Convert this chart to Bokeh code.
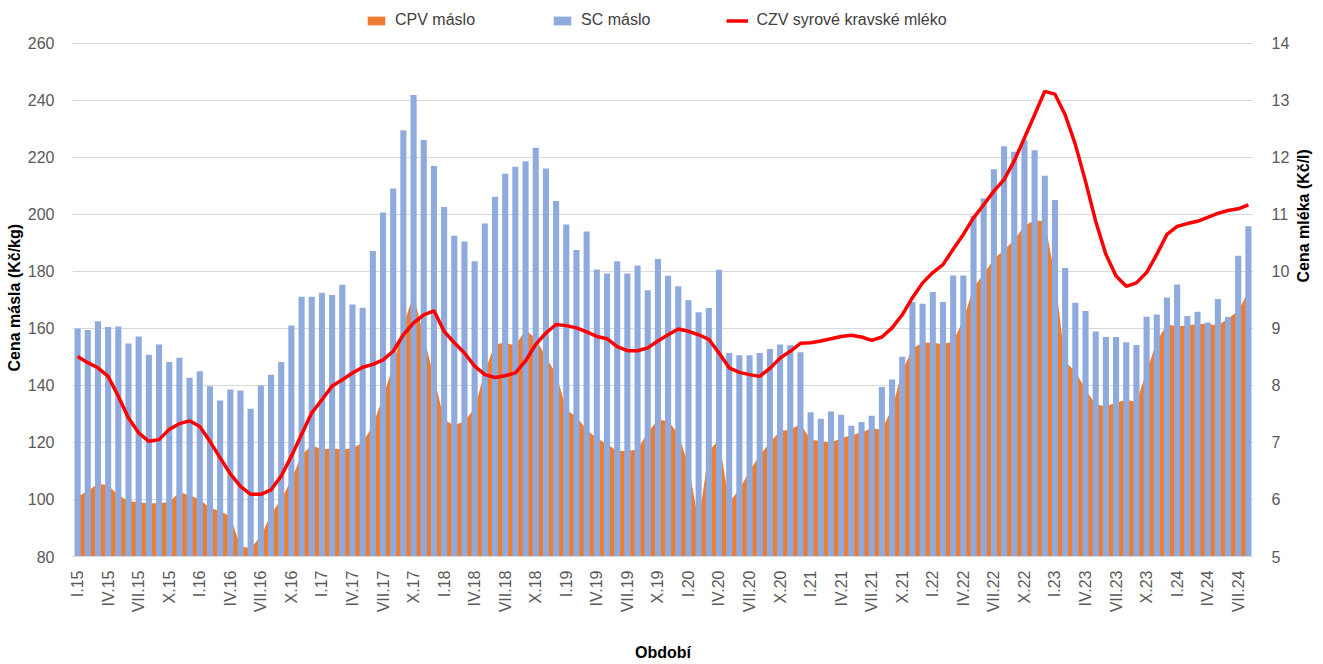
from bokeh.plotting import figure
from bokeh.models import Range1d, LinearAxis, FixedTicker, Legend, LegendItem, ColumnDataSource, Title
from bokeh.embed import file_html
from bokeh.resources import INLINE
import math

# ---- data ----
tick_labels = ["I.15", "IV.15", "VII.15", "X.15", "I.16", "IV.16", "VII.16", "X.16",
               "I.17", "IV.17", "VII.17", "X.17", "I.18", "IV.18", "VII.18", "X.18",
               "I.19", "IV.19", "VII.19", "X.19", "I.20", "IV.20", "VII.20", "X.20",
               "I.21", "IV.21", "VII.21", "X.21", "I.22", "IV.22", "VII.22", "X.22",
               "I.23", "IV.23", "VII.23", "X.23", "I.24", "IV.24", "VII.24"]

sc_maslo = [160, 159.5, 162.5, 160.5, 160.7, 154.7, 157.2, 150.8, 154.4, 148.2,
            149.7, 142.7, 145, 139.7, 134.7, 138.6, 138.2, 131.8, 140, 143.8,
            148.2, 161, 171.1, 171.1, 172.5, 171.7, 175.3, 168.4, 167.3, 187.2,
            200.7, 209.1, 229.5, 241.9, 226.1, 217, 202.6, 192.5, 190.5, 183.6,
            196.8, 206.2, 214.3, 216.7, 218.7, 223.4, 216.1, 204.7, 196.5, 187.5,
            194, 180.7, 179.3, 183.6, 179.3, 182.1, 173.4, 184.4, 178.5, 174.8,
            169.9, 165.7, 167.2, 180.6, 151.4, 150.6, 150.6, 151.4, 152.8, 154.4,
            154.1, 151.7, 130.6, 128.3, 130.9, 129.7, 125.9, 127.2, 129.4, 139.5,
            142.1, 150.1, 169.3, 168.7, 172.8, 169.3, 178.6, 178.6, 199.5, 205.6,
            215.9, 223.9, 222, 226, 222.5, 213.6, 205.1, 181.2, 169, 166.1,
            158.9, 157, 157, 155.2, 154.2, 164.1, 164.9, 170.9, 175.4, 164.4,
            165.9, 162.1, 170.3, 164, 185.5, 195.9]

cpv_maslo = [101, 103, 105.5, 105, 101.5, 99.5, 99, 98.6, 98.8, 99,
             102.5, 101.5, 100, 97, 96, 94, 83.5, 83, 87, 95,
             100, 107, 115.5, 119, 117.5, 118, 117.5, 118, 120, 126,
             136, 147, 161, 172, 157, 143, 128, 126, 127.5, 132,
             145, 154.5, 155, 154, 159.5, 156.5, 150, 144, 131.5, 129,
             124.5, 121.5, 119.5, 117, 117, 117.5, 123.5, 128, 127.5, 123,
             112, 92, 117, 121, 99, 103.5, 110, 115.5, 120, 124,
             124.5, 126.5, 121, 120.5, 120, 121.5, 122.5, 123.5, 125, 124.5,
             132, 145, 153, 155, 155, 154.5, 155.5, 163, 174.5, 179,
             184.5, 187.5, 191, 196, 198, 197.5, 178, 148.2, 145, 138.6,
             133.3, 132.7, 133.9, 135, 134.2, 145, 155.5, 161.4, 160.8, 161,
             161.6, 161.7, 161, 163.5, 166.1, 173.1]

czv_mleko = [8.51, 8.40, 8.31, 8.16, 7.81, 7.43, 7.17, 7.02, 7.05, 7.23,
             7.33, 7.38, 7.28, 7.02, 6.73, 6.45, 6.23, 6.09, 6.09, 6.17,
             6.41, 6.76, 7.14, 7.52, 7.75, 7.99, 8.10, 8.22, 8.32, 8.37,
             8.45, 8.60, 8.89, 9.10, 9.24, 9.31, 8.95, 8.75, 8.57, 8.34,
             8.19, 8.14, 8.17, 8.22, 8.43, 8.72, 8.92, 9.07, 9.05, 9.01,
             8.94, 8.86, 8.82, 8.68, 8.61, 8.61, 8.66, 8.78, 8.89, 8.99,
             8.95, 8.89, 8.81, 8.57, 8.31, 8.23, 8.19, 8.16, 8.30, 8.48,
             8.60, 8.74, 8.75, 8.78, 8.82, 8.86, 8.88, 8.85, 8.79, 8.85,
             9.01, 9.24, 9.54, 9.80, 9.98, 10.12, 10.39, 10.65, 10.94, 11.17,
             11.41, 11.61, 11.94, 12.34, 12.75, 13.16, 13.11, 12.75, 12.23, 11.58,
             10.88, 10.30, 9.92, 9.74, 9.80, 9.98, 10.30, 10.65, 10.79, 10.84,
             10.88, 10.95, 11.02, 11.07, 11.10, 11.17]

n = len(sc_maslo)
idx = list(range(n))
src = ColumnDataSource(dict(x=idx, sc=sc_maslo, cpv=cpv_maslo, czv=czv_mleko,
                            base=[80] * n))

FONT = "Liberation Sans"
TICK_COLOR = "#595959"
FS = "16px"

# plot frame extends 35px above the 260 / 14 gridline to host the legend
TOP_PAD_PX = 35
FRAME_PX = 514
left_top = 260 + TOP_PAD_PX * (260 - 80) / FRAME_PX
right_top = 14 + TOP_PAD_PX * (14 - 5) / FRAME_PX

p = figure(width=1323, height=664, output_backend="svg", toolbar_location=None,
           x_range=Range1d(-0.5, n - 0.5), y_range=Range1d(80, left_top),
           min_border_left=72, min_border_right=60, min_border_top=8,
           min_border_bottom=107, background_fill_color="white")
p.extra_y_ranges = {"milk": Range1d(5, right_top)}
p.outline_line_color = None

r_area = p.varea(x="x", y1="base", y2="cpv", source=src, fill_color="#ED7D31")
r_bar = p.vbar(x="x", top="sc", bottom="base", width=0.6, source=src,
               fill_color="#8FAADC", line_color=None)
r_line = p.line(x="x", y="czv", source=src, y_range_name="milk",
                line_color="#FF0000", line_width=3.5)

# grid
p.xgrid.visible = False
p.ygrid.grid_line_color = "#d9d9d9"
p.ygrid.grid_line_width = 1
p.ygrid.ticker = FixedTicker(ticks=list(range(80, 261, 20)))

# left axis
la = p.yaxis[0]
la.ticker = FixedTicker(ticks=list(range(80, 261, 20)))
la.axis_line_color = None
la.major_tick_line_color = None
la.minor_tick_line_color = None
la.major_label_text_font = FONT
la.major_label_text_font_size = FS
la.major_label_text_color = TICK_COLOR
la.major_label_standoff = 12

left_title = Title(text="Cena másla (Kč/kg)", align="left", offset=185,
                   text_font=FONT, text_font_size=FS, text_font_style="bold",
                   text_color="black", standoff=4)
p.add_layout(left_title, "left")

# right axis
ra = LinearAxis(y_range_name="milk", ticker=FixedTicker(ticks=list(range(5, 15))))
ra.axis_line_color = None
ra.major_tick_line_color = None
ra.minor_tick_line_color = None
ra.major_label_text_font = FONT
ra.major_label_text_font_size = FS
ra.major_label_text_color = TICK_COLOR
ra.major_label_standoff = 12
ra.axis_label = "Cena mléka (Kč/l)"
ra.axis_label_text_font = FONT
ra.axis_label_text_font_size = FS
ra.axis_label_text_font_style = "bold"
ra.axis_label_text_color = "black"
ra.axis_label_standoff = 11
ra.axis_label_orientation = math.pi / 2
p.add_layout(ra, "right")

# bottom axis
ba = p.xaxis[0]
tick_pos = list(range(0, n, 3))
ba.ticker = FixedTicker(ticks=tick_pos)
ba.major_label_overrides = {t: lab for t, lab in zip(tick_pos, tick_labels)}
ba.major_label_orientation = math.pi / 2
ba.axis_line_color = "#d9d9d9"
ba.major_tick_line_color = None
ba.minor_tick_line_color = None
ba.major_label_text_font = FONT
ba.major_label_text_font_size = FS
ba.major_label_text_color = TICK_COLOR
ba.major_label_standoff = 8
ba.axis_label = "Období"
ba.axis_label_text_font = FONT
ba.axis_label_text_font_size = FS
ba.axis_label_text_font_style = "bold"
ba.axis_label_text_color = "black"
ba.axis_label_standoff = 29

legend = Legend(items=[
    LegendItem(label="CPV máslo", renderers=[r_area]),
    LegendItem(label="SC máslo", renderers=[r_bar]),
    LegendItem(label="CZV syrové kravské mléko", renderers=[r_line]),
], orientation="horizontal", location=(293, FRAME_PX + TOP_PAD_PX - 22))
legend.label_text_font = FONT
legend.label_text_font_size = FS
legend.label_text_color = "#404040"
legend.border_line_color = None
legend.background_fill_alpha = 0
legend.spacing = 76
legend.glyph_width = 22
legend.glyph_height = 11
legend.padding = 2
legend.margin = 0
legend.label_standoff = 8
p.add_layout(legend, "center")

open("out.html", "w").write(file_html(p, INLINE))
